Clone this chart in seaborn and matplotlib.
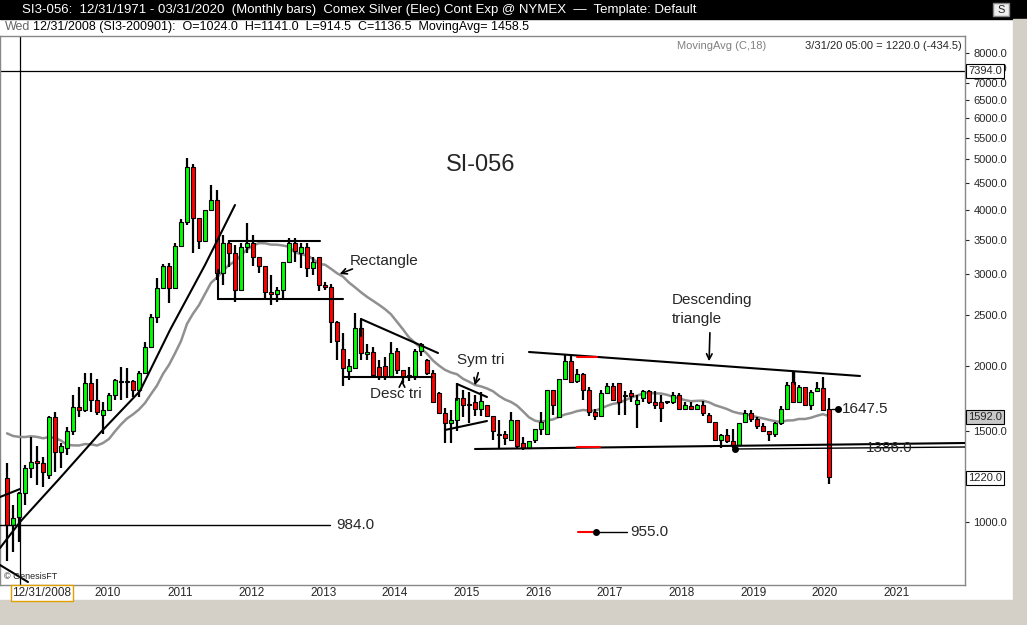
import numpy as np
import pandas as pd
import matplotlib
matplotlib.use("Agg")
import matplotlib.pyplot as plt
import seaborn as sns

# ---- data (monthly, Oct 2008 .. Mar 2020), prices in cents ----
opens = [1215,985,1024,1136,1270,1310,1300,1230,1590,1365,1390,1500,1665,1640,1850,1715,1610,1640,1760,1870,
         1865,1870,1800,1935,2170,2480,2820,3110,2820,3400,3780,4830,3850,3480,4000,4170,3020,3450,3300,2800,
         3390,3450,3240,3120,2770,2750,2800,3170,3450,3300,3390,3090,3240,2860,2840,2430,2150,1950,1980,2370,
         2110,2130,1990,2000,1900,2140,1960,1920,1900,2140,2050,1940,1770,1620,1550,1570,1730,1680,1700,1650,
         1680,1600,1470,1480,1440,1570,1420,1390,1440,1510,1480,1795,1590,1890,2040,1870,1930,1800,1630,1600,
         1770,1830,1850,1750,1770,1690,1730,1790,1700,1700,1700,1700,1760,1650,1670,1650,1680,1610,1560,1440,
         1470,1430,1410,1560,1620,1580,1530,1500,1480,1550,1650,1860,1700,1820,1680,1790,1810,1650]
highs = [1300,1080,1141,1290,1460,1400,1335,1600,1630,1420,1525,1760,1820,1935,1935,1890,1700,1770,1890,1990,
         1980,1880,1950,2220,2520,2950,3140,3150,3450,3830,5030,4900,3850,4000,4460,4360,3570,3500,3420,3450,
         3760,3570,3240,3120,2990,2840,3170,3530,3530,3450,3450,3240,3240,2900,2880,2440,2310,2060,2530,2450,
         2200,2170,2050,2080,2220,2160,1960,1990,2150,2210,2060,1960,1780,1660,1640,1850,1800,1780,1760,1780,
         1680,1600,1570,1500,1630,1570,1460,1430,1510,1630,1795,1800,1890,2100,2100,1970,1940,1820,1650,1800,
         1850,1850,1850,1790,1800,1760,1800,1800,1790,1760,1710,1780,1770,1700,1700,1690,1710,1620,1560,1480,
         1510,1510,1550,1640,1640,1590,1550,1500,1560,1670,1860,1945,1840,1820,1800,1860,1900,1730]
lows = [840,875,914.5,1080,1215,1180,1170,1210,1250,1270,1345,1470,1590,1630,1630,1610,1480,1640,1720,1720,
        1730,1740,1740,1935,2160,2420,2820,2640,2810,3390,3740,3300,3360,3480,4000,2930,2860,3100,2650,2800,
        3300,3120,3020,2680,2620,2650,2700,3150,3170,3090,2960,2990,2790,2800,2210,2050,1830,1880,1980,2050,
        2050,1900,1880,1880,1900,1930,1850,1870,1880,2090,1920,1700,1620,1420,1420,1500,1590,1550,1600,1600,
        1590,1440,1390,1410,1430,1380,1375,1380,1420,1470,1480,1610,1590,1890,1860,1850,1720,1600,1570,1600,
        1770,1720,1610,1610,1700,1520,1700,1690,1650,1560,1690,1690,1650,1640,1650,1640,1600,1560,1440,1390,
        1420,1390,1400,1550,1560,1510,1490,1430,1460,1540,1650,1700,1700,1680,1640,1780,1640,1185]
closes = [985,1020,1136.5,1270,1305,1300,1250,1590,1365,1400,1500,1665,1640,1850,1715,1630,1640,1760,1875,1865,
          1870,1800,1935,2170,2480,2820,3110,2820,3400,3780,4830,3850,3480,4000,4170,3020,3450,3300,2800,3390,
          3450,3240,3120,2770,2750,2800,3170,3450,3330,3390,3090,3170,2860,2840,2430,2230,1980,2000,2370,2120,
          2130,1920,1900,1900,2120,1960,1900,1900,2140,2200,1940,1700,1620,1550,1570,1730,1680,1680,1650,1710,
          1600,1500,1470,1450,1570,1400,1390,1430,1510,1560,1795,1680,1890,2040,1860,1930,1800,1630,1600,1770,
          1830,1720,1700,1760,1750,1720,1790,1700,1680,1660,1710,1760,1650,1680,1650,1680,1620,1560,1440,1470,
          1430,1410,1550,1620,1580,1530,1500,1480,1550,1650,1840,1700,1820,1680,1780,1810,1640,1220]
# closes before Oct 2008 (Apr 2007 .. Sep 2008), used only for the 18-month moving average
prior_closes = [1340,1330,1240,1290,1210,1380,1410,1450,1480,1690,1980,1730,1650,1690,1750,1760,1360,1290]
year_labels = ["2010","2011","2012","2013","2014","2015","2016","2017","2018","2019","2020","2021"]
yticks = [1000,1500,2000,2500,3000,3500,4000,4500,5000,5500,6000,6500,7000,7500,8000]

df = pd.DataFrame({"i": np.arange(len(closes)), "o": opens, "h": highs, "l": lows, "c": closes})
allc = pd.Series(prior_closes + closes)
df["ma"] = allc.rolling(18).mean().values[len(prior_closes):]

sns.set_style("white")
plt.rcParams['font.family'] = ['Liberation Sans', 'DejaVu Sans']

W, H = 1027, 625
fig = plt.figure(figsize=(W/100, H/100), dpi=100)
fig.patch.set_facecolor("white")

def fx(x): return x / W
def fy(y): return 1 - y / H

# title bar
fig.patches.append(plt.Rectangle((0, fy(19)), 1, 19/H, transform=fig.transFigure, color="black", zorder=0))
fig.text(fx(22), fy(10), "SI3-056:  12/31/1971 - 03/31/2020  (Monthly bars)  Comex Silver (Elec) Cont Exp @ NYMEX  \u2014  Template: Default",
         color="white", fontsize=9.5, va="center", ha="left")
fig.text(fx(5), fy(27), "Wed", color="#666666", fontsize=9, va="center")
fig.text(fx(33), fy(27), "12/31/2008 (SI3-200901):  O=1024.0  H=1141.0  L=914.5  C=1136.5  MovingAvg= 1458.5",
         color="black", fontsize=9, va="center")
fig.patches.append(plt.Rectangle((fx(993), fy(16)), 16/W, 13/H, transform=fig.transFigure, facecolor="#eeeeee", edgecolor="#888", zorder=1))
fig.text(fx(1001), fy(10), "S", fontsize=8, ha="center", va="center")
# bottom gray strip and right scroll strip
fig.patches.append(plt.Rectangle((0, 0), 1, 25/H, transform=fig.transFigure, color="#d4d0c8", zorder=0))
fig.patches.append(plt.Rectangle((fx(1013), 0), 14/W, 1 - 19/H, transform=fig.transFigure, color="#d4d0c8", zorder=0))

ax = fig.add_axes([0, fy(585), fx(965), (585-36)/H])
ax.set_yscale("log")

def px(x): return (x - 7) / 6.0
def py(y): return 1000 * 10 ** ((522 - y) / 519.0)

ax.set_xlim(px(0), px(965))
ax.set_ylim(py(585), py(36))

# candles
up = df["c"] >= df["o"]
ax.vlines(df["i"], df["l"], df["h"], color="black", lw=1.6, zorder=3)
bottoms = np.minimum(df["o"], df["c"])
heights = np.maximum(np.abs(df["c"] - df["o"]), 6)
ax.bar(df["i"], heights, bottom=bottoms, width=0.62,
       color=np.where(up, "#00ff00", "#ff0000"), edgecolor="black", linewidth=0.8, zorder=4)
sns.lineplot(data=df, x="i", y="ma", ax=ax, color="#909090", lw=1.8, zorder=2, legend=False)

def L(xs, ys, **kw):
    kw.setdefault("color", "black"); kw.setdefault("lw", 1.5)
    ax.plot([px(x) for x in xs], [py(y) for y in ys], zorder=5, **kw)

# crosshair
ax.axvline(px(20), color="black", lw=0.9, zorder=1)
ax.axhline(py(71), color="black", lw=0.9, zorder=1)
# uptrend curve
L([0, 20, 60, 100, 140, 170, 205, 235], [548, 522, 478, 433, 391, 330, 265, 205])
L([0, 20], [497, 489]); L([0, 28], [565, 582])
# 984 line
L([0, 330], [525, 525], lw=1)
# rectangle
L([230, 320], [241, 241]); L([218, 343], [299, 299]); L([218, 218], [270, 299])
# desc tri
L([361, 438], [319, 353]); L([344, 432], [377, 377]); L([361, 361], [319, 336])
# sym tri
L([457, 487], [384, 397]); L([445, 487], [430, 421]); L([457, 457], [384, 400])
# descending triangle
L([529, 860], [352, 376]); L([475, 965], [449, 443]); L([735, 965], [449, 447], lw=1)
L([794, 794], [372, 384], lw=1)
L([838, 832], [409, 409], lw=1)
ax.plot([px(838)], [py(409)], "o", color="black", ms=4, zorder=6)
ax.plot([px(735)], [py(449)], "o", color="black", ms=4, zorder=6)
# red markers
L([577, 597], [357, 357], color="red", lw=1.5); L([577, 600], [447, 447], color="red", lw=1.5)
L([578, 596], [532, 532], color="red", lw=1.5); L([596, 627], [532, 532], lw=1)
ax.plot([px(596)], [py(532)], "o", color="black", ms=4, zorder=6)

def arrow(x0, y0, x1, y1):
    ax.annotate("", xy=(px(x1), py(y1)), xytext=(px(x0), py(y0)),
                arrowprops=dict(arrowstyle="->", color="black", lw=1.2), zorder=6)
arrow(355, 268, 337, 275)
arrow(710, 330, 709, 364)
arrow(479, 370, 474, 388)
arrow(402, 386, 402, 377)

def T(x, y, s, **kw):
    ax.text(px(x), py(y), s, va="center", ha="left", fontsize=kw.pop("fs", 11), zorder=7, **kw)
T(446, 165, "SI-056", fs=17)
T(350, 261, "Rectangle")
T(672, 300, "Descending")
T(672, 319, "triangle")
T(457, 360, "Sym tri")
T(370, 394, "Desc tri")
T(336, 525, "984.0")
T(630, 532, "955.0")
T(842, 409, "1647.5")
T(866, 448, "1386.0")
ax.text(px(4), py(577), "\u00a9 GenesisFT", fontsize=6.5, va="center", zorder=7)
ax.text(px(962), py(46), "3/31/20 05:00 = 1220.0 (-434.5)", fontsize=8, ha="right", va="center")
ax.text(px(766), py(46), "MovingAvg (C,18)", fontsize=8, ha="right", va="center", color="#808080")

# right axis
ax.yaxis.tick_right()
ax.set_yticks(yticks)
ax.set_yticklabels([str(v) + ".0" for v in yticks], fontsize=8)
ax.yaxis.set_minor_locator(matplotlib.ticker.NullLocator())
ax.tick_params(axis="y", length=3, pad=3, right=True)
ax.set_xticks([])
ax.set_xlabel(""); ax.set_ylabel("")
for s in ax.spines.values():
    s.set_color("#888888"); s.set_linewidth(1)

def box(y, s, fc):
    fig.text(fx(968), fy(y), s, fontsize=8, va="center", ha="left",
             bbox=dict(boxstyle="square,pad=0.2", facecolor=fc, edgecolor="black", lw=0.8))
box(71, "7394.0", "white")
box(417, "1592.0", "#c8c8c8")
box(478, "1220.0", "white")

# x labels
for k, lab in enumerate(year_labels):
    xc = 108 + 71.7 * k
    fig.text(fx(xc), fy(593), lab, fontsize=8.5, ha="center", va="center")
fig.text(fx(42), fy(593), "12/31/2008", fontsize=8.5, ha="center", va="center",
         bbox=dict(boxstyle="square,pad=0.15", facecolor="white", edgecolor="#e0a000", lw=1))

fig.savefig("out.png", dpi=100)
